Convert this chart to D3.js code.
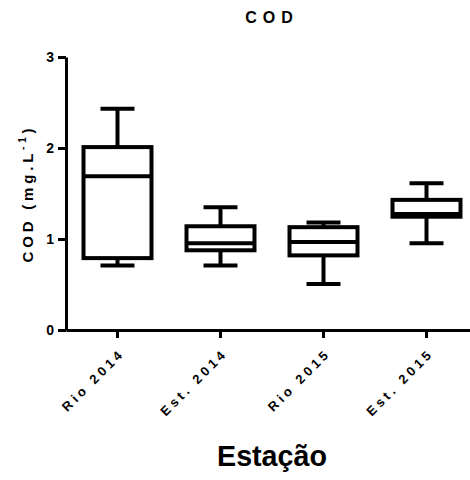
<!DOCTYPE html>
<html>
<head>
<meta charset="utf-8">
<script src="https://cdn.jsdelivr.net/npm/d3@7"></script>
<style>
  body { margin: 0; background: #fff; }
  text { font-family: "Liberation Sans", Arial, sans-serif; font-weight: bold; fill: #000; }
</style>
</head>
<body>
<div id="chart"></div>
<script>
const categories = ['Rio 2014', 'Est. 2014', 'Rio 2015', 'Est. 2015'];
const minValues = [0.71, 0.71, 0.505, 0.954];
const q1Values = [0.79, 0.876, 0.82, 1.245];
const medianValues = [1.69, 0.953, 0.967, 1.275];
const q3Values = [2.01, 1.14, 1.13, 1.43];
const maxValues = [2.43, 1.348, 1.18, 1.613];
const yTicks = [0, 1, 2, 3];

const boxes = categories.map((c, i) => ({
  name: c,
  min: minValues[i],
  q1: q1Values[i],
  median: medianValues[i],
  q3: q3Values[i],
  max: maxValues[i]
}));

const width = 470;
const height = 480;
const margin = { top: 57, left: 66, bottom: 150 };

const svg = d3.select('#chart').append('svg')
  .attr('width', width)
  .attr('height', height);

const x = d3.scaleBand()
  .domain(categories)
  .range([margin.left, margin.left + 412])
  .padding(0);

const y = d3.scaleLinear()
  .domain([0, 3])
  .range([height - margin.bottom, margin.top]);

// y axis
const yAxis = svg.append('g')
  .attr('transform', `translate(${margin.left},0)`)
  .call(d3.axisLeft(y).tickValues(yTicks).tickFormat(d3.format('d')).tickSize(8).tickSizeOuter(0).tickPadding(4));
yAxis.select('.domain').attr('stroke-width', 3);
yAxis.selectAll('.tick line').attr('stroke-width', 3);
yAxis.selectAll('text')
  .style('font-size', '14px')
  .style('font-family', '"Liberation Sans", Arial, sans-serif')
  .style('font-weight', 'bold');

// x axis
const xAxis = svg.append('g')
  .attr('transform', `translate(0,${y(0)})`)
  .call(d3.axisBottom(x).tickSize(8).tickSizeOuter(0));
xAxis.select('.domain').attr('stroke-width', 3);
xAxis.selectAll('.tick line').attr('stroke-width', 3);
xAxis.selectAll('text')
  .attr('x', 0)
  .attr('y', 0)
  .attr('dy', 0)
  .attr('text-anchor', 'end')
  .attr('transform', 'translate(8,24) rotate(-45)')
  .style('font-size', '13px')
  .style('letter-spacing', '3.6px')
  .style('font-family', '"Liberation Sans", Arial, sans-serif')
  .style('font-weight', 'bold');

// boxes
const bw = x.bandwidth() * 0.66;
const capW = bw / 2;
const g = svg.append('g')
  .attr('stroke', '#000')
  .attr('stroke-width', 4)
  .attr('fill', 'none');

const box = g.selectAll('.box')
  .data(boxes)
  .enter().append('g')
  .attr('class', 'box')
  .attr('transform', d => `translate(${x(d.name) + x.bandwidth() / 2},0)`);

box.append('line')
  .attr('x1', 0).attr('x2', 0)
  .attr('y1', d => y(d.q3)).attr('y2', d => y(d.max));
box.append('line')
  .attr('x1', 0).attr('x2', 0)
  .attr('y1', d => y(d.q1)).attr('y2', d => y(d.min));
box.append('line')
  .attr('x1', -capW / 2).attr('x2', capW / 2)
  .attr('y1', d => y(d.max)).attr('y2', d => y(d.max));
box.append('line')
  .attr('x1', -capW / 2).attr('x2', capW / 2)
  .attr('y1', d => y(d.min)).attr('y2', d => y(d.min));
box.append('rect')
  .attr('x', -bw / 2)
  .attr('width', bw)
  .attr('y', d => y(d.q3))
  .attr('height', d => y(d.q1) - y(d.q3))
  .attr('fill', '#fff');
box.append('line')
  .attr('x1', -bw / 2).attr('x2', bw / 2)
  .attr('y1', d => y(d.median)).attr('y2', d => y(d.median));

// title
svg.append('text')
  .attr('x', 272)
  .attr('y', 23)
  .attr('text-anchor', 'middle')
  .style('font-size', '16px')
  .style('letter-spacing', '6px')
  .text('COD');

// y label
const yLabel = svg.append('text')
  .attr('transform', `translate(33,${(y(0) + y(3)) / 2}) rotate(-90)`)
  .attr('text-anchor', 'middle')
  .style('font-size', '15px')
  .style('letter-spacing', '3.8px');
yLabel.append('tspan').text('COD (mg.L');
yLabel.append('tspan').attr('dy', -7).style('font-size', '10px').text('-1');
yLabel.append('tspan').attr('dy', 7).text(')');

// x label
svg.append('text')
  .attr('x', 217)
  .attr('y', 466)
  .attr('textLength', 110)
  .attr('lengthAdjust', 'spacingAndGlyphs')
  .style('font-size', '30px')
  .text('Estação');
</script>
</body>
</html>
